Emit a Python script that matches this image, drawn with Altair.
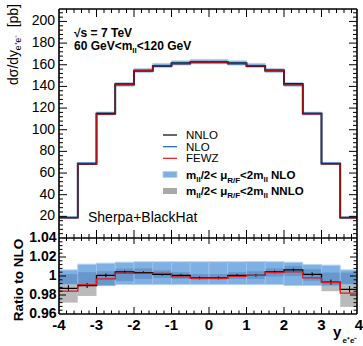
import altair as alt
import pandas as pd

# ---------------- data ----------------
bin_edges = [-4.0, -3.5, -3.0, -2.5, -2.0, -1.5, -1.0, -0.5, 0.0,
             0.5, 1.0, 1.5, 2.0, 2.5, 3.0, 3.5, 4.0]
# NLO cross section dsigma/dy [pb]
nlo_xsec = [19.0, 69.0, 114.8, 141.5, 154.2, 158.8, 161.2, 162.5,
            162.5, 161.2, 158.8, 154.2, 141.5, 114.8, 69.0, 19.0]
# NLO scale band (ratio to NLO)
nlo_scale_lo = [0.991, 0.9905, 0.990, 0.991, 0.991, 0.991, 0.991, 0.991,
                0.991, 0.991, 0.991, 0.991, 0.990, 0.990, 0.9895, 0.991]
nlo_scale_hi = [1.0064, 1.0124, 1.0135, 1.0145, 1.015, 1.015, 1.015, 1.015,
                1.015, 1.015, 1.0152, 1.015, 1.0145, 1.012, 1.0114, 1.0064]
# NNLO / NLO
nnlo_ratio = [0.987, 0.990, 1.0007, 1.0043, 1.0035, 1.0018, 1.0007, 0.998,
              0.998, 1.0007, 1.0007, 1.0043, 1.0064, 1.0018, 0.9936, 0.986]
nnlo_stat = [0.0035, 0.0027, 0.002, 0.0015, 0.0015, 0.0015, 0.0015, 0.0015,
             0.0015, 0.0015, 0.0015, 0.0015, 0.0015, 0.002, 0.0027, 0.0035]
nnlo_scale_lo = [0.972, 0.979, 0.9894, 0.9947, 0.997, 0.998, 0.997, 0.996,
                 0.996, 0.997, 0.997, 0.9995, 1.0, 0.995, 0.984, 0.9675]
nnlo_scale_hi = [1.002, 1.004, 1.005, 1.0078, 1.008, 1.006, 1.004, 1.002,
                 1.002, 1.004, 1.005, 1.008, 1.0106, 1.007, 1.0036, 1.0036]
# FEWZ / NLO
fewz_ratio = [0.984, 0.991, 0.997, 1.003, 1.0028, 1.0028, 0.999, 0.9976,
              0.9976, 0.9997, 1.0007, 1.0036, 1.0043, 0.998, 0.993, 0.982]

x_tick_values = [-4, -3, -2, -1, 0, 1, 2, 3, 4]
x_tick_labels = ["-4", "-3", "-2", "-1", "0", "1", "2", "3", "4"]
top_tick_values = [20, 40, 60, 80, 100, 120, 140, 160, 180, 200]
ratio_tick_values = [0.96, 0.98, 1.0, 1.02, 1.04]
ratio_tick_labels = ["0.96", "0.98", "1", "1.02", "1.04"]

# ---------------- layout (pixels) ----------------
W, H, HT = 298, 305, 229          # plot width, total height, top-panel height
PAD_L, PAD_T = 59, 9
FONT = "Liberation Sans"
TOP_MAX = 211.5
XMAX = -4 + W / 37.5

ppu = HT / TOP_MAX
top_scale = alt.Scale(domain=[-(H - HT) / ppu, TOP_MAX], nice=False, zero=False)
r_ppu = (H - HT) / 0.08
ratio_scale = alt.Scale(domain=[0.96, 1.04 + HT / r_ppu], nice=False, zero=False)
xs = alt.Scale(domain=[-4, XMAX], nice=False, zero=False)

# ---------------- tables ----------------
nb = len(nlo_xsec)
bins = pd.DataFrame({
    "x0": bin_edges[:-1], "x1": bin_edges[1:],
    "xc": [(bin_edges[i] + bin_edges[i + 1]) / 2 for i in range(nb)],
    "nlo": nlo_xsec,
    "nlo_lo": [nlo_xsec[i] * nlo_scale_lo[i] for i in range(nb)],
    "nlo_hi": [nlo_xsec[i] * nlo_scale_hi[i] for i in range(nb)],
    "nnlo_lo": [nlo_xsec[i] * nnlo_scale_lo[i] for i in range(nb)],
    "nnlo_hi": [nlo_xsec[i] * nnlo_scale_hi[i] for i in range(nb)],
    "r_nlo_lo": nlo_scale_lo, "r_nlo_hi": nlo_scale_hi,
    "r_nnlo_lo": nnlo_scale_lo, "r_nnlo_hi": nnlo_scale_hi,
    "r_nnlo_elo": [nnlo_ratio[i] - nnlo_stat[i] for i in range(nb)],
    "r_nnlo_ehi": [nnlo_ratio[i] + nnlo_stat[i] for i in range(nb)],
})


def steps(vals):
    return pd.DataFrame({"x": bin_edges, "y": list(vals) + [vals[-1]]})


top_nlo = nlo_xsec
top_nnlo = [nlo_xsec[i] * nnlo_ratio[i] for i in range(nb)]
top_fewz = [nlo_xsec[i] * fewz_ratio[i] for i in range(nb)]

BLUE_BAND = "#3a86d6"
BLUE_EDGE = "#8dbbe8"
GRAY_BAND = "#8c8c8c"
C_NNLO = "black"
C_NLO = "#1a5fb4"
C_FEWZ = "#e0191c"

layers = []


def band(lo, hi, scale, color, op, stroke=None):
    kw = dict(color=color, opacity=op, clip=True)
    if stroke:
        kw.update(stroke=stroke, strokeWidth=1)
    return alt.Chart(bins).mark_rect(**kw).encode(
        x=alt.X("x0:Q", scale=xs, axis=None), x2="x1:Q",
        y=alt.Y(f"{lo}:Q", scale=scale, axis=None), y2=f"{hi}:Q")


def step_line(vals, scale, color, sw=1.5, op=1.0):
    return alt.Chart(steps(vals)).mark_line(
        interpolate="step-after", color=color, strokeWidth=sw, opacity=op, clip=True).encode(
        x=alt.X("x:Q", scale=xs, axis=None),
        y=alt.Y("y:Q", scale=scale, axis=None))


# top panel
layers.append(band("nnlo_lo", "nnlo_hi", top_scale, GRAY_BAND, 0.6))
layers.append(band("nlo_lo", "nlo_hi", top_scale, BLUE_BAND, 0.65, BLUE_EDGE))
layers.append(step_line(top_nlo, top_scale, C_NLO, 1.8))
layers.append(step_line(top_nnlo, top_scale, C_NNLO, 1.6))
layers.append(step_line(top_fewz, top_scale, C_FEWZ, 1.2, 0.75))

# ratio panel
layers.append(band("r_nnlo_lo", "r_nnlo_hi", ratio_scale, GRAY_BAND, 0.6))
layers.append(band("r_nlo_lo", "r_nlo_hi", ratio_scale, BLUE_BAND, 0.65, BLUE_EDGE))
layers.append(step_line(nnlo_ratio, ratio_scale, C_NNLO, 1.3))
layers.append(alt.Chart(bins).mark_rule(color="black", strokeWidth=1).encode(
    x=alt.X("xc:Q", scale=xs, axis=None),
    y=alt.Y("r_nnlo_elo:Q", scale=ratio_scale, axis=None), y2="r_nnlo_ehi:Q"))
layers.append(step_line(fewz_ratio, ratio_scale, C_FEWZ, 1.3))

# ---------------- frame and inward ticks ----------------
one = pd.DataFrame({"k": [0]})


def frame_rule(x1, x2, y1, y2, sw=1.6, color="black"):
    return alt.Chart(one).mark_rule(color=color, strokeWidth=sw).encode(
        x=alt.value(x1), x2=alt.value(x2), y=alt.value(y1), y2=alt.value(y2))


layers += [frame_rule(0, 0, 0, H), frame_rule(W, W, 0, H),
           frame_rule(0, W, 0, 0), frame_rule(0, W, H, H),
           frame_rule(0, W, HT, HT)]


def yticks(vals, scale, length):
    df = pd.DataFrame({"v": vals})
    out = []
    for a, b in ((0, length), (W, W - length)):
        out.append(alt.Chart(df).mark_rule(color="black", strokeWidth=1).encode(
            y=alt.Y("v:Q", scale=scale, axis=None), x=alt.value(a), x2=alt.value(b)))
    return out


def xticks(vals, y1, y2):
    df = pd.DataFrame({"v": vals})
    return alt.Chart(df).mark_rule(color="black", strokeWidth=1).encode(
        x=alt.X("v:Q", scale=xs, axis=None), y=alt.value(y1), y2=alt.value(y2))


top_major = [v for v in range(20, 211, 20)]
top_minor = [v for v in range(4, 211, 4) if v % 20 != 0]
r_major = [0.98, 1.0, 1.02]
r_minor = [round(0.96 + 0.004 * i, 3) for i in range(1, 20) if i % 5 != 0]
x_major = [-3, -2, -1, 0, 1, 2, 3]
x_minor = [round(-4 + 0.2 * i, 2) for i in range(1, 40) if i % 5 != 0]

layers += yticks(top_major, top_scale, 8) + yticks(top_minor, top_scale, 4)
layers += yticks(r_major, ratio_scale, 7) + yticks(r_minor, ratio_scale, 3.5)
layers += [xticks(x_major, 0, 8), xticks(x_minor, 0, 4),
           xticks(x_major, HT - 8, HT + 6), xticks(x_minor, HT - 4, HT + 3),
           xticks(x_major, H - 7, H), xticks(x_minor, H - 3.5, H)]

# ---------------- tick labels ----------------
layers.append(alt.Chart(pd.DataFrame({"v": top_tick_values, "t": [str(v) for v in top_tick_values]}))
              .mark_text(font=FONT, fontSize=14, align="right", baseline="middle", dx=-4)
              .encode(y=alt.Y("v:Q", scale=top_scale, axis=None), x=alt.value(0), text="t:N"))
layers.append(alt.Chart(pd.DataFrame({"v": ratio_tick_values, "t": ratio_tick_labels}))
              .mark_text(font=FONT, fontSize=14, fontWeight="bold", align="right",
                         baseline="middle", dx=-2.5)
              .encode(y=alt.Y("v:Q", scale=ratio_scale, axis=None), x=alt.value(0), text="t:N"))
layers.append(alt.Chart(pd.DataFrame({"v": x_tick_values, "t": x_tick_labels}))
              .mark_text(font=FONT, fontSize=15, fontWeight="bold", align="center", baseline="top")
              .encode(x=alt.X("v:Q", scale=xs, axis=None), y=alt.value(H + 4), text="t:N"))

# ---------------- text helpers ----------------
WB = {'m': .889, 'l': .278, '/': .278, '2': .556, '<': .584, ' ': .278, 'μ': .611,
      'R': .722, 'F': .611, 'N': .722, 'L': .611, 'O': .778, '6': .556, '0': .556,
      '1': .556, 'G': .778, 'e': .556, 'V': .667, 'y': .556, '+': .584, '-': .333}
WR = {'d': .556, 'σ': .6, '/': .278, 'y': .5, 'e': .556, '+': .584, '-': .333,
      '[': .278, ']': .278, 'p': .556, 'b': .556, ' ': .278}


def twidth(s, size, bold):
    tab = WB if bold else WR
    return sum(tab.get(c, .556) for c in s) * size


def txt(s, x, y, size, bold=False, angle=0, align="left", baseline="alphabetic", color="black"):
    kw = dict(text=s, font=FONT, fontSize=size, align=align, baseline=baseline, color=color)
    if bold:
        kw["fontWeight"] = "bold"
    if angle:
        kw["angle"] = angle
    return alt.Chart(one).mark_text(**kw).encode(x=alt.value(x), y=alt.value(y))


def run(segs, x0, yb, bold=True):
    """segs: list of (text, size, baseline shift); leading spaces become gaps"""
    out, x = [], x0
    for s, size, dy in segs:
        lead = len(s) - len(s.lstrip(" "))
        x += lead * (WB if bold else WR)[' '] * size
        s = s.lstrip(" ")
        out.append(txt(s, x, yb + dy, size, bold))
        x += twidth(s, size, bold)
    return out


def vrun(segs, xb, y0, bold=False):
    out, y = [], y0
    for s, size, dx in segs:
        lead = len(s) - len(s.lstrip(" "))
        y -= lead * (WB if bold else WR)[' '] * size
        s = s.lstrip(" ")
        out.append(txt(s, xb + dx, y, size, bold, angle=270))
        y -= twidth(s, size, bold)
    return out


# in-plot annotations (plot coordinates)
layers.append(txt("√s = 7 TeV", 15, 28.3, 12, True))
layers += run([("60 GeV<m", 12, 0), ("ll", 8, 3), ("<120 GeV", 12, 0)], 15, 41.3)
layers.append(txt("Sherpa+BlackHat", 29, 212.7, 14))

# legend
for yl, col, lab in ((126, C_NNLO, "NNLO"), (137.7, C_NLO, "NLO"), (149.3, C_FEWZ, "FEWZ")):
    layers.append(frame_rule(104, 118, yl, yl, 1.2, col))
    layers.append(txt(lab, 127, yl + 3.8, 11.5))
layers.append(alt.Chart(one).mark_rect(color=BLUE_BAND, opacity=0.65, stroke=BLUE_EDGE, strokeWidth=1).encode(
    x=alt.value(104), x2=alt.value(118), y=alt.value(162.5), y2=alt.value(168.5)))
layers.append(alt.Chart(one).mark_rect(color=GRAY_BAND, opacity=0.75).encode(
    x=alt.value(104), x2=alt.value(118), y=alt.value(179), y2=alt.value(185)))
for yb, tail in ((170, " NLO"), (185.7, " NNLO")):
    layers += run([("m", 11.5, 0), ("ll", 8, 3), ("/2< μ", 11.5, 0), ("R/F", 8, 3.5),
                   ("<2m", 11.5, 0), ("ll", 8, 3), (tail, 11.5, 0)], 127, yb)

# axis titles
layers += vrun([("dσ/dy", 14, 0), ("e⁺e⁻", 8.5, 3.5), (" [pb]", 14, 0)], -41.5, 76)
layers.append(txt("Ratio to NLO", -36.5, 271, 13.5, True, angle=270, align="center"))
layers.append(txt("y", 274, 328, 15, True))
layers.append(txt("e⁺e⁻", 283.5, 334, 8, True))

chart = alt.layer(*layers).resolve_scale(y="independent").properties(
    width=W, height=H,
    autosize=alt.AutoSizeParams(type="none"),
    padding={"left": PAD_L, "top": PAD_T, "right": 363 - PAD_L - W, "bottom": 346 - PAD_T - H},
).configure_view(strokeWidth=0)

chart.save("out.html", embed_options={"renderer": "svg", "actions": False})
